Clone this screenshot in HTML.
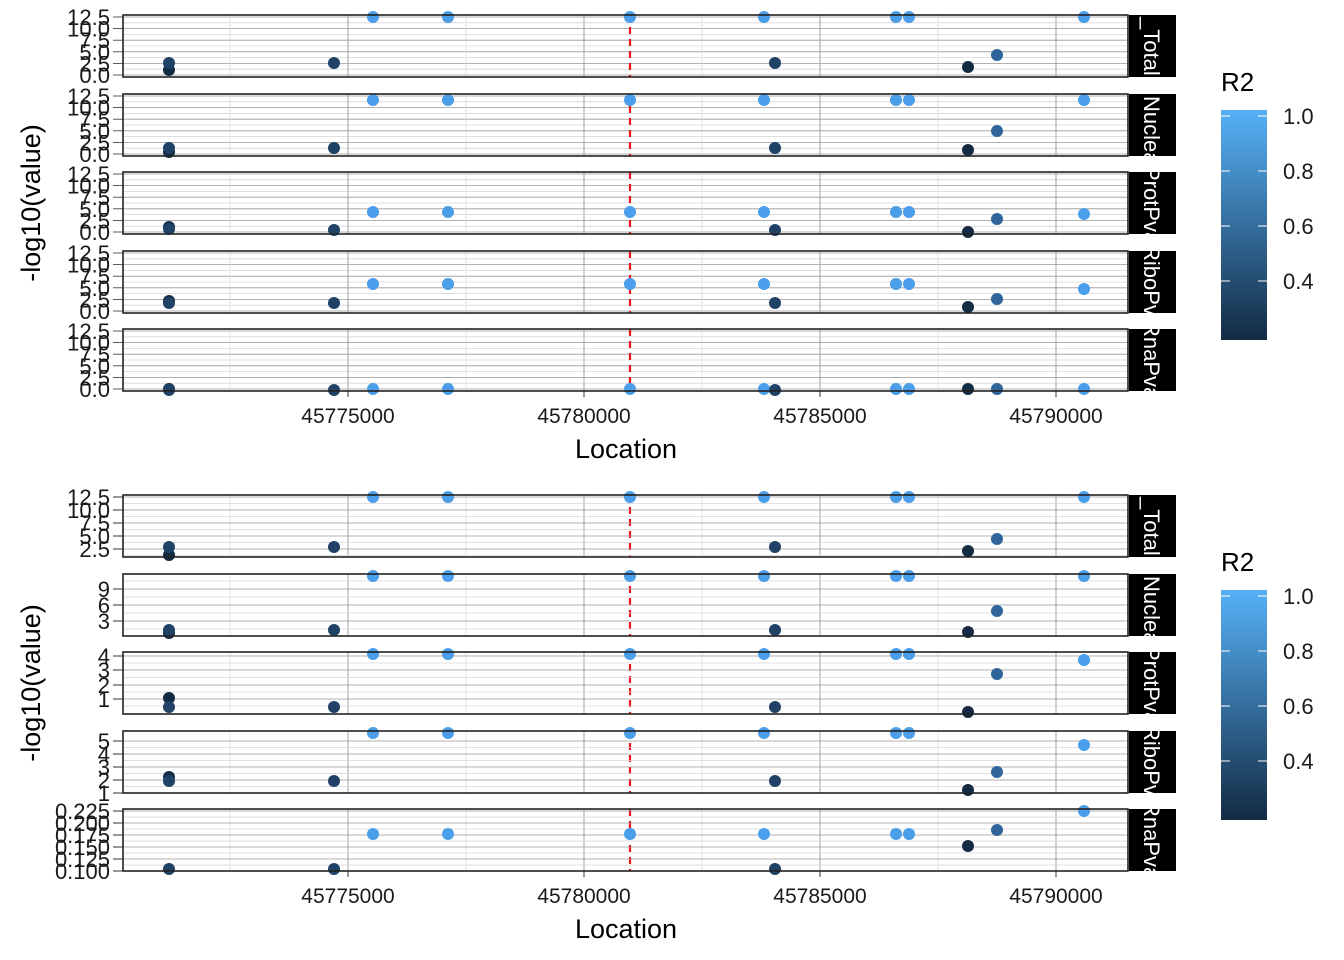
<!DOCTYPE html>
<html><head><meta charset="utf-8"><style>body{margin:0;background:#fff}svg{display:block}text{font-family:"Liberation Sans",Arial,sans-serif}</style></head><body>
<svg width="1344" height="960" viewBox="0 0 1344 960" xmlns="http://www.w3.org/2000/svg">
<defs>
<g id="vx">
<line x1="230" x2="230" y1="0" y2="62" stroke="#d6d6d6" stroke-width="0.6"/>
<line x1="466" x2="466" y1="0" y2="62" stroke="#d6d6d6" stroke-width="0.6"/>
<line x1="702" x2="702" y1="0" y2="62" stroke="#d6d6d6" stroke-width="0.6"/>
<line x1="938" x2="938" y1="0" y2="62" stroke="#d6d6d6" stroke-width="0.6"/>
<line x1="348" x2="348" y1="0" y2="62" stroke="#999" stroke-width="0.9"/>
<line x1="584" x2="584" y1="0" y2="62" stroke="#999" stroke-width="0.9"/>
<line x1="820" x2="820" y1="0" y2="62" stroke="#999" stroke-width="0.9"/>
<line x1="1056" x2="1056" y1="0" y2="62" stroke="#999" stroke-width="0.9"/>
<line x1="630" x2="630" y1="0" y2="62" stroke="#e8161b" stroke-width="2.2" stroke-dasharray="7,5"/>
</g>
<g id="hy" stroke-width="0.8">
<g stroke="#d6d6d6"><line x1="123" x2="1128" y1="54.2" y2="54.2"/><line x1="123" x2="1128" y1="42.6" y2="42.6"/><line x1="123" x2="1128" y1="31" y2="31"/><line x1="123" x2="1128" y1="19.4" y2="19.4"/><line x1="123" x2="1128" y1="7.8" y2="7.8"/></g>
<g stroke="#999"><line x1="123" x2="1128" y1="60" y2="60"/><line x1="123" x2="1128" y1="48.4" y2="48.4"/><line x1="123" x2="1128" y1="36.8" y2="36.8"/><line x1="123" x2="1128" y1="25.2" y2="25.2"/><line x1="123" x2="1128" y1="13.6" y2="13.6"/><line x1="123" x2="1128" y1="2" y2="2"/></g>
<g stroke="#333"><line x1="113" x2="123" y1="60" y2="60"/><line x1="113" x2="123" y1="48.4" y2="48.4"/><line x1="113" x2="123" y1="36.8" y2="36.8"/><line x1="113" x2="123" y1="25.2" y2="25.2"/><line x1="113" x2="123" y1="13.6" y2="13.6"/><line x1="113" x2="123" y1="2" y2="2"/></g>
</g>
<linearGradient id="cb" x1="0" y1="0" x2="0" y2="1"><stop offset="0" stop-color="#56B1F7"/><stop offset="1" stop-color="#132B43"/></linearGradient>
</defs>

<!-- ============ TOP ============ -->
<g>
<use href="#hy" y="15"/><use href="#hy" y="94"/><use href="#hy" y="172"/><use href="#hy" y="251"/><use href="#hy" y="329"/>
<use href="#vx" y="15"/><use href="#vx" y="94"/><use href="#vx" y="172"/><use href="#vx" y="251"/><use href="#vx" y="329"/>
<g font-size="22" text-anchor="end" fill="#1a1a1a">
<text x="110" y="83">0.0</text><text x="110" y="71.4">2.5</text><text x="110" y="59.8">5.0</text><text x="110" y="48.2">7.5</text><text x="110" y="36.6">10.0</text><text x="110" y="25">12.5</text>
<text x="110" y="162">0.0</text><text x="110" y="150.4">2.5</text><text x="110" y="138.8">5.0</text><text x="110" y="127.2">7.5</text><text x="110" y="115.6">10.0</text><text x="110" y="104">12.5</text>
<text x="110" y="240">0.0</text><text x="110" y="228.4">2.5</text><text x="110" y="216.8">5.0</text><text x="110" y="205.2">7.5</text><text x="110" y="193.6">10.0</text><text x="110" y="182">12.5</text>
<text x="110" y="319">0.0</text><text x="110" y="307.4">2.5</text><text x="110" y="295.8">5.0</text><text x="110" y="284.2">7.5</text><text x="110" y="272.6">10.0</text><text x="110" y="261">12.5</text>
<text x="110" y="397">0.0</text><text x="110" y="385.4">2.5</text><text x="110" y="373.8">5.0</text><text x="110" y="362.2">7.5</text><text x="110" y="350.6">10.0</text><text x="110" y="339">12.5</text>
</g>
<g fill="#4b9ee9">
<circle cx="373" cy="17" r="6"/><circle cx="448" cy="17" r="6"/><circle cx="630" cy="17" r="6"/><circle cx="764" cy="17" r="6"/><circle cx="896" cy="17" r="6"/><circle cx="909" cy="17" r="6"/><circle cx="1084" cy="17" r="6"/>
<circle cx="373" cy="100" r="6"/><circle cx="448" cy="100" r="6"/><circle cx="630" cy="100" r="6"/><circle cx="764" cy="100" r="6"/><circle cx="896" cy="100" r="6"/><circle cx="909" cy="100" r="6"/><circle cx="1084" cy="100" r="6"/>
<circle cx="373" cy="212" r="6"/><circle cx="448" cy="212" r="6"/><circle cx="630" cy="212" r="6"/><circle cx="764" cy="212" r="6"/><circle cx="896" cy="212" r="6"/><circle cx="909" cy="212" r="6"/><circle cx="1084" cy="214" r="6"/>
<circle cx="373" cy="284" r="6"/><circle cx="448" cy="284" r="6"/><circle cx="630" cy="284" r="6"/><circle cx="764" cy="284" r="6"/><circle cx="896" cy="284" r="6"/><circle cx="909" cy="284" r="6"/><circle cx="1084" cy="289" r="6"/>
<circle cx="373" cy="389" r="6"/><circle cx="448" cy="389" r="6"/><circle cx="630" cy="389" r="6"/><circle cx="764" cy="389" r="6"/><circle cx="896" cy="389" r="6"/><circle cx="909" cy="389" r="6"/><circle cx="1084" cy="389" r="6"/>
</g>
<g fill="#132b43">
<circle cx="169" cy="70" r="6"/><circle cx="968" cy="67" r="6"/>
<circle cx="169" cy="152" r="6"/><circle cx="968" cy="150" r="6"/>
<circle cx="169" cy="227" r="6"/><circle cx="968" cy="232" r="6"/>
<circle cx="169" cy="301" r="6"/><circle cx="968" cy="307" r="6"/>
<circle cx="169" cy="389" r="6"/><circle cx="968" cy="389" r="6"/>
</g>
<g fill="#1f4266">
<circle cx="169" cy="63" r="6"/><circle cx="334" cy="63" r="6"/><circle cx="775" cy="63" r="6"/>
<circle cx="169" cy="148" r="6"/><circle cx="334" cy="148" r="6"/><circle cx="775" cy="148" r="6"/>
<circle cx="169" cy="229" r="6"/><circle cx="334" cy="230" r="6"/><circle cx="775" cy="230" r="6"/>
<circle cx="169" cy="303" r="6"/><circle cx="334" cy="303" r="6"/><circle cx="775" cy="303" r="6"/>
<circle cx="169" cy="390" r="6"/><circle cx="334" cy="390" r="6"/><circle cx="775" cy="390" r="6"/>
</g>
<g fill="#2f659a">
<circle cx="997" cy="55" r="6"/><circle cx="997" cy="131" r="6"/><circle cx="997" cy="219" r="6"/><circle cx="997" cy="299" r="6"/><circle cx="997" cy="389" r="6"/>
</g>
<g fill="none" stroke="#222" stroke-width="1.6">
<rect x="123" y="15" width="1005" height="62"/><rect x="123" y="94" width="1005" height="62"/><rect x="123" y="172" width="1005" height="62"/><rect x="123" y="251" width="1005" height="62"/><rect x="123" y="329" width="1005" height="62"/>
</g>
<g fill="#000"><rect x="1129" y="15" width="47" height="62"/><rect x="1129" y="94" width="47" height="62"/><rect x="1129" y="172" width="47" height="62"/><rect x="1129" y="251" width="47" height="62"/><rect x="1129" y="329" width="47" height="62"/></g>
<g font-size="22" fill="#fff">
<text transform="translate(1144,17) rotate(90)">_Total</text>
<text transform="translate(1144,96) rotate(90)">Nuclea</text>
<text transform="translate(1144,166) rotate(90)">ProtPva</text>
<text transform="translate(1144,245) rotate(90)">RiboPva</text>
<text transform="translate(1144,321) rotate(90)">RnaPva</text>
</g>
<g stroke="#333"><line x1="348" x2="348" y1="391" y2="397"/><line x1="584" x2="584" y1="391" y2="397"/><line x1="820" x2="820" y1="391" y2="397"/><line x1="1056" x2="1056" y1="391" y2="397"/></g>
<g font-size="21" text-anchor="middle" fill="#1a1a1a"><text x="348" y="423">45775000</text><text x="584" y="423">45780000</text><text x="820" y="423">45785000</text><text x="1056" y="423">45790000</text></g>
<text x="626" y="458" font-size="27" text-anchor="middle">Location</text>
<text transform="translate(40,203) rotate(-90)" font-size="27" text-anchor="middle">-log10(value)</text>
<text x="1221" y="91" font-size="26">R2</text>
<rect x="1221" y="110" width="46" height="230" fill="url(#cb)"/>
<g stroke="#fff" stroke-width="1"><line x1="1221" x2="1230" y1="116" y2="116"/><line x1="1258" x2="1267" y1="116" y2="116"/><line x1="1221" x2="1230" y1="171" y2="171"/><line x1="1258" x2="1267" y1="171" y2="171"/><line x1="1221" x2="1230" y1="226" y2="226"/><line x1="1258" x2="1267" y1="226" y2="226"/><line x1="1221" x2="1230" y1="281" y2="281"/><line x1="1258" x2="1267" y1="281" y2="281"/></g>
<g font-size="22" fill="#1a1a1a"><text x="1283" y="124">1.0</text><text x="1283" y="179">0.8</text><text x="1283" y="234">0.6</text><text x="1283" y="289">0.4</text></g>
</g>

<!-- ============ BOTTOM ============ -->
<g>
<use href="#vx" y="495"/><use href="#vx" y="574"/><use href="#vx" y="652"/><use href="#vx" y="731"/><use href="#vx" y="809"/>
<g stroke-width="0.8" stroke="#d6d6d6">
<line x1="123" x2="1128" y1="555.5" y2="555.5"/><line x1="123" x2="1128" y1="542.5" y2="542.5"/><line x1="123" x2="1128" y1="529.5" y2="529.5"/><line x1="123" x2="1128" y1="516.5" y2="516.5"/><line x1="123" x2="1128" y1="503.5" y2="503.5"/>
<line x1="123" x2="1128" y1="629" y2="629"/><line x1="123" x2="1128" y1="613" y2="613"/><line x1="123" x2="1128" y1="597" y2="597"/><line x1="123" x2="1128" y1="581" y2="581"/>
<line x1="123" x2="1128" y1="706" y2="706"/><line x1="123" x2="1128" y1="692" y2="692"/><line x1="123" x2="1128" y1="677.5" y2="677.5"/><line x1="123" x2="1128" y1="663" y2="663"/>
<line x1="123" x2="1128" y1="786.5" y2="786.5"/><line x1="123" x2="1128" y1="773.5" y2="773.5"/><line x1="123" x2="1128" y1="760.5" y2="760.5"/><line x1="123" x2="1128" y1="747.5" y2="747.5"/>
<line x1="123" x2="1128" y1="865" y2="865"/><line x1="123" x2="1128" y1="853" y2="853"/><line x1="123" x2="1128" y1="841" y2="841"/><line x1="123" x2="1128" y1="829" y2="829"/><line x1="123" x2="1128" y1="817" y2="817"/>
</g>
<g stroke-width="0.8" stroke="#999">
<line x1="123" x2="1128" y1="549" y2="549"/><line x1="123" x2="1128" y1="536" y2="536"/><line x1="123" x2="1128" y1="523" y2="523"/><line x1="123" x2="1128" y1="510" y2="510"/><line x1="123" x2="1128" y1="497" y2="497"/>
<line x1="123" x2="1128" y1="621" y2="621"/><line x1="123" x2="1128" y1="605" y2="605"/><line x1="123" x2="1128" y1="589" y2="589"/>
<line x1="123" x2="1128" y1="699" y2="699"/><line x1="123" x2="1128" y1="685" y2="685"/><line x1="123" x2="1128" y1="670" y2="670"/><line x1="123" x2="1128" y1="656" y2="656"/>
<line x1="123" x2="1128" y1="793" y2="793"/><line x1="123" x2="1128" y1="780" y2="780"/><line x1="123" x2="1128" y1="767" y2="767"/><line x1="123" x2="1128" y1="754" y2="754"/><line x1="123" x2="1128" y1="741" y2="741"/>
<line x1="123" x2="1128" y1="871" y2="871"/><line x1="123" x2="1128" y1="859" y2="859"/><line x1="123" x2="1128" y1="847" y2="847"/><line x1="123" x2="1128" y1="835" y2="835"/><line x1="123" x2="1128" y1="823" y2="823"/><line x1="123" x2="1128" y1="811" y2="811"/>
</g>
<g stroke="#333">
<line x1="113" x2="123" y1="549" y2="549"/><line x1="113" x2="123" y1="536" y2="536"/><line x1="113" x2="123" y1="523" y2="523"/><line x1="113" x2="123" y1="510" y2="510"/><line x1="113" x2="123" y1="497" y2="497"/>
<line x1="113" x2="123" y1="621" y2="621"/><line x1="113" x2="123" y1="605" y2="605"/><line x1="113" x2="123" y1="589" y2="589"/>
<line x1="113" x2="123" y1="699" y2="699"/><line x1="113" x2="123" y1="685" y2="685"/><line x1="113" x2="123" y1="670" y2="670"/><line x1="113" x2="123" y1="656" y2="656"/>
<line x1="113" x2="123" y1="793" y2="793"/><line x1="113" x2="123" y1="780" y2="780"/><line x1="113" x2="123" y1="767" y2="767"/><line x1="113" x2="123" y1="754" y2="754"/><line x1="113" x2="123" y1="741" y2="741"/>
<line x1="113" x2="123" y1="871" y2="871"/><line x1="113" x2="123" y1="859" y2="859"/><line x1="113" x2="123" y1="847" y2="847"/><line x1="113" x2="123" y1="835" y2="835"/><line x1="113" x2="123" y1="823" y2="823"/><line x1="113" x2="123" y1="811" y2="811"/>
</g>
<g font-size="22" text-anchor="end" fill="#1a1a1a">
<text x="110" y="557">2.5</text><text x="110" y="544">5.0</text><text x="110" y="531">7.5</text><text x="110" y="518">10.0</text><text x="110" y="505">12.5</text>
<text x="110" y="629">3</text><text x="110" y="613">6</text><text x="110" y="597">9</text>
<text x="110" y="707">1</text><text x="110" y="693">2</text><text x="110" y="678">3</text><text x="110" y="664">4</text>
<text x="110" y="801">1</text><text x="110" y="788">2</text><text x="110" y="775">3</text><text x="110" y="762">4</text><text x="110" y="749">5</text>
<text x="110" y="879">0.100</text><text x="110" y="867">0.125</text><text x="110" y="855">0.150</text><text x="110" y="843">0.175</text><text x="110" y="831">0.200</text><text x="110" y="819">0.225</text>
</g>
<g fill="#4b9ee9">
<circle cx="373" cy="497" r="6"/><circle cx="448" cy="497" r="6"/><circle cx="630" cy="497" r="6"/><circle cx="764" cy="497" r="6"/><circle cx="896" cy="497" r="6"/><circle cx="909" cy="497" r="6"/><circle cx="1084" cy="497" r="6"/>
<circle cx="373" cy="576" r="6"/><circle cx="448" cy="576" r="6"/><circle cx="630" cy="576" r="6"/><circle cx="764" cy="576" r="6"/><circle cx="896" cy="576" r="6"/><circle cx="909" cy="576" r="6"/><circle cx="1084" cy="576" r="6"/>
<circle cx="373" cy="654" r="6"/><circle cx="448" cy="654" r="6"/><circle cx="630" cy="654" r="6"/><circle cx="764" cy="654" r="6"/><circle cx="896" cy="654" r="6"/><circle cx="909" cy="654" r="6"/><circle cx="1084" cy="660" r="6"/>
<circle cx="373" cy="733" r="6"/><circle cx="448" cy="733" r="6"/><circle cx="630" cy="733" r="6"/><circle cx="764" cy="733" r="6"/><circle cx="896" cy="733" r="6"/><circle cx="909" cy="733" r="6"/><circle cx="1084" cy="745" r="6"/>
<circle cx="373" cy="834" r="6"/><circle cx="448" cy="834" r="6"/><circle cx="630" cy="834" r="6"/><circle cx="764" cy="834" r="6"/><circle cx="896" cy="834" r="6"/><circle cx="909" cy="834" r="6"/><circle cx="1084" cy="811" r="6"/>
</g>
<g fill="#132b43">
<circle cx="169" cy="555" r="6"/><circle cx="968" cy="551" r="6"/>
<circle cx="169" cy="633" r="6"/><circle cx="968" cy="632" r="6"/>
<circle cx="169" cy="698" r="6"/><circle cx="968" cy="712" r="6"/>
<circle cx="169" cy="777" r="6"/><circle cx="968" cy="790" r="6"/>
<circle cx="968" cy="846" r="6"/>
</g>
<g fill="#1f4266">
<circle cx="169" cy="547" r="6"/><circle cx="334" cy="547" r="6"/><circle cx="775" cy="547" r="6"/>
<circle cx="169" cy="630" r="6"/><circle cx="334" cy="630" r="6"/><circle cx="775" cy="630" r="6"/>
<circle cx="169" cy="707" r="6"/><circle cx="334" cy="707" r="6"/><circle cx="775" cy="707" r="6"/>
<circle cx="169" cy="781" r="6"/><circle cx="334" cy="781" r="6"/><circle cx="775" cy="781" r="6"/>
<circle cx="169" cy="869" r="6"/><circle cx="334" cy="869" r="6"/><circle cx="775" cy="869" r="6"/>
</g>
<g fill="#2f659a">
<circle cx="997" cy="539" r="6"/><circle cx="997" cy="611" r="6"/><circle cx="997" cy="674" r="6"/><circle cx="997" cy="772" r="6"/><circle cx="997" cy="830" r="6"/>
</g>
<g fill="none" stroke="#222" stroke-width="1.6">
<rect x="123" y="495" width="1005" height="62"/><rect x="123" y="574" width="1005" height="62"/><rect x="123" y="652" width="1005" height="62"/><rect x="123" y="731" width="1005" height="62"/><rect x="123" y="809" width="1005" height="62"/>
</g>
<g fill="#000"><rect x="1129" y="495" width="47" height="62"/><rect x="1129" y="574" width="47" height="62"/><rect x="1129" y="652" width="47" height="62"/><rect x="1129" y="731" width="47" height="62"/><rect x="1129" y="809" width="47" height="62"/></g>
<g font-size="22" fill="#fff">
<text transform="translate(1144,497) rotate(90)">_Total</text>
<text transform="translate(1144,576) rotate(90)">Nuclea</text>
<text transform="translate(1144,646) rotate(90)">ProtPva</text>
<text transform="translate(1144,725) rotate(90)">RiboPva</text>
<text transform="translate(1144,801) rotate(90)">RnaPva</text>
</g>
<g stroke="#333"><line x1="348" x2="348" y1="871" y2="877"/><line x1="584" x2="584" y1="871" y2="877"/><line x1="820" x2="820" y1="871" y2="877"/><line x1="1056" x2="1056" y1="871" y2="877"/></g>
<g font-size="21" text-anchor="middle" fill="#1a1a1a"><text x="348" y="903">45775000</text><text x="584" y="903">45780000</text><text x="820" y="903">45785000</text><text x="1056" y="903">45790000</text></g>
<text x="626" y="938" font-size="27" text-anchor="middle">Location</text>
<text transform="translate(40,683) rotate(-90)" font-size="27" text-anchor="middle">-log10(value)</text>
<text x="1221" y="571" font-size="26">R2</text>
<rect x="1221" y="590" width="46" height="230" fill="url(#cb)"/>
<g stroke="#fff" stroke-width="1"><line x1="1221" x2="1230" y1="596" y2="596"/><line x1="1258" x2="1267" y1="596" y2="596"/><line x1="1221" x2="1230" y1="651" y2="651"/><line x1="1258" x2="1267" y1="651" y2="651"/><line x1="1221" x2="1230" y1="706" y2="706"/><line x1="1258" x2="1267" y1="706" y2="706"/><line x1="1221" x2="1230" y1="761" y2="761"/><line x1="1258" x2="1267" y1="761" y2="761"/></g>
<g font-size="22" fill="#1a1a1a"><text x="1283" y="604">1.0</text><text x="1283" y="659">0.8</text><text x="1283" y="714">0.6</text><text x="1283" y="769">0.4</text></g>
</g>
</svg>
</body></html>
